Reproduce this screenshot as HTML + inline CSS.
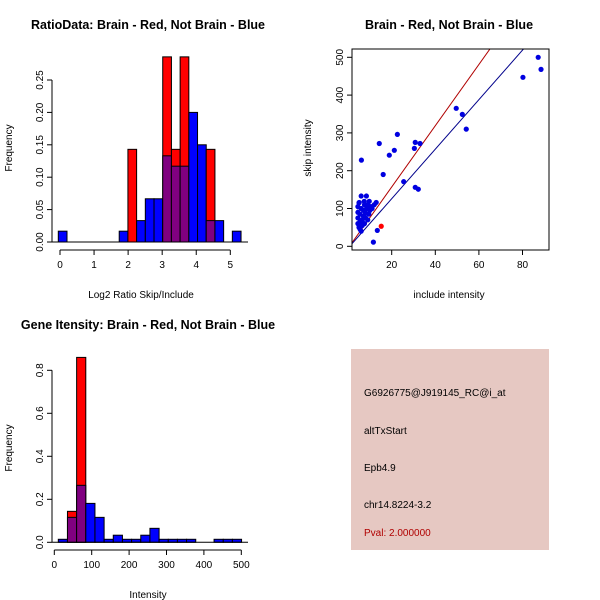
<!DOCTYPE html>
<html><head><meta charset="utf-8"><style>
html,body{margin:0;padding:0;background:#fff;}
svg{display:block;font-family:"Liberation Sans",Arial,sans-serif;}
.t{font-weight:bold;font-size:12.5px;}
.l{font-size:10px;}
</style></head><body>
<svg id="s" width="600" height="600" viewBox="0 0 600 600" xmlns="http://www.w3.org/2000/svg">
<rect width="600" height="600" fill="#fff"/>
<text class="t" x="148" y="29" text-anchor="middle">RatioData: Brain - Red, Not Brain - Blue</text>
<text class="l" x="141" y="298" text-anchor="middle">Log2 Ratio Skip/Include</text>
<text class="l" x="12" y="148" text-anchor="middle" transform="rotate(-90 12 148)">Frequency</text>
<text class="t" x="449" y="29" text-anchor="middle">Brain - Red, Not Brain - Blue</text>
<text class="l" x="449" y="298" text-anchor="middle">include intensity</text>
<text class="l" x="311" y="148" text-anchor="middle" transform="rotate(-90 311 148)">skip intensity</text>
<text class="t" x="148" y="329" text-anchor="middle">Gene Itensity: Brain - Red, Not Brain - Blue</text>
<text class="l" x="148" y="598" text-anchor="middle">Intensity</text>
<text class="l" x="12" y="448" text-anchor="middle" transform="rotate(-90 12 448)">Frequency</text>
<g>
<rect x="351" y="349" width="198" height="201" fill="#e6c8c2"/>
<text class="l" x="364" y="396">G6926775@J919145_RC@i_at</text>
<text class="l" x="364" y="434">altTxStart</text>
<text class="l" x="364" y="471">Epb4.9</text>
<text class="l" x="364" y="508">chr14.8224-3.2</text>
<text class="l" x="364" y="536" fill="#b00000">Pval: 2.000000</text>
</g>
<g id="g1"></g><g id="g2"></g><g id="g3"></g>
</svg>
<script>
// Ratio histogram data
const ratioBlue=[0.0167,0,0,0,0,0,0,0.0167,0,0.033,0.0667,0.0667,0.133,0.117,0.117,0.2,0.15,0.033,0.033,0,0.0167];
const ratioRed=[0,0,0,0,0,0,0,0,0.143,0,0,0,0.2857,0.143,0.2857,0,0,0.143,0,0,0];
const ratioXTicks=[0,1,2,3,4,5];
const ratioYTicks=[0,0.05,0.1,0.15,0.2,0.25];
const ratioYLabels=["0.00","0.05","0.10","0.15","0.20","0.25"];
// Scatter data
const incBlue=[87.2,88.5,80.2,49.6,52.4,54.2,22.6,14.3,30.8,33,30.4,21.2,18.9,6.1,16.1,25.5,30.8,32.2,13.4,11.6,6,8.4,5.1,7.4,9.7,12.9,4.5,4.5,4.5,4.5,5,5,5.5,5.5,5.5,6,6,6.5,6.5,7,7,7.5,7.5,8,8,8.5,9,9,9.5,10,10.5,11,12];
const skipBlue=[500,468,447,365,349,310,296,272,275,272,259,254,241,228,190,171,156,151,42,11,133,133,116,119,119,116,60,75,90,105,50,115,45,65,85,40,100,55,70,80,95,60,110,75,88,100,70,110,85,95,105,100,110];
const incRed=[15.2];
const skipRed=[53];
const fitRed=[-5,8.1];
const fitBlue=[-5,6.55];
const scXTicks=[20,40,60,80];
const scYTicks=[0,100,200,300,400,500];
// Intensity histogram data
const intBlue=[0.014,0.116,0.265,0.181,0.116,0.014,0.033,0.014,0.014,0.033,0.065,0.014,0.014,0.014,0.014,0,0,0.014,0.014,0.014];
const intRed=[0,0.144,0.86,0,0,0,0,0,0,0,0,0,0,0,0,0,0,0,0,0];
const intXTicks=[0,100,200,300,400,500];
const intYTicks=[0,0.2,0.4,0.6,0.8];
const intYLabels=["0.0","0.2","0.4","0.6","0.8"];

const NS="http://www.w3.org/2000/svg";
function mk(p,t,a){const e=document.createElementNS(NS,t);for(const k in a)e.setAttribute(k,a[k]);p.appendChild(e);return e;}
function axes(g,xs,xl,x0,ys,yl,y0,xLab,yLab){
  mk(g,'line',{x1:xs(xl[0]),x2:xs(xl[xl.length-1]),y1:x0,y2:x0,stroke:'#000'});
  xl.forEach((v,i)=>{mk(g,'line',{x1:xs(v),x2:xs(v),y1:x0,y2:x0+5,stroke:'#000'});
    const t=mk(g,'text',{x:xs(v),y:x0+18,'text-anchor':'middle','class':'l'});t.textContent=xLab?xLab[i]:v;
    
    });
  mk(g,'line',{x1:y0,x2:y0,y1:ys(yl[0]),y2:ys(yl[yl.length-1]),stroke:'#000'});
  yl.forEach((v,i)=>{mk(g,'line',{x1:y0,x2:y0-5,y1:ys(v),y2:ys(v),stroke:'#000'});
    const t=mk(g,'text',{x:y0-9,y:ys(v),'text-anchor':'middle','class':'l',transform:`rotate(-90 ${y0-9} ${ys(v)})`});t.textContent=yLab?yLab[i]:v;
    
    });
}
function hist(g,blue,red,start,w,xs,ys){
  const n=blue.length;
  for(let i=0;i<n;i++){
    const a=xs(start+i*w),b=xs(start+(i+1)*w);
    const r=red[i],bl=blue[i];
    if(r>0){const e=mk(g,'rect',{x:a,y:ys(r),width:b-a,height:ys(0)-ys(r),fill:'#ff0000',stroke:'#000'});
      
      }
    if(bl>0){const e=mk(g,'rect',{x:a,y:ys(bl),width:b-a,height:ys(0)-ys(bl),fill:r>0?'#800080':'#0000ff',stroke:'#000'});
      
      }
  }
}
// Panel 1
const g1=document.getElementById('g1');


const x1=v=>60+v*34.06, y1=v=>242-v*648;
hist(g1,ratioBlue,ratioRed,-0.05,0.2555,x1,y1);
mk(g1,'line',{x1:52,x2:248,y1:242,y2:242,stroke:'#000'});
axes(g1,x1,ratioXTicks,250,y1,ratioYTicks,52,null,ratioYLabels);
// Panel 2
const g2=document.getElementById('g2');


const x2=v=>348.1+v*2.18, y2=v=>246.3-v*0.378;
const cp=mk(g2,'clipPath',{id:'cp'});mk(cp,'rect',{x:352,y:49,width:197,height:201});
[[fitRed,'#b00000'],[fitBlue,'#00008b']].forEach(([f,c])=>{
  const xa=1.5,xb=95;
  const l=mk(g2,'line',{x1:x2(xa),y1:y2(f[0]+f[1]*xa),x2:x2(xb),y2:y2(f[0]+f[1]*xb),stroke:c,'clip-path':'url(#cp)'});
  
  
});
incBlue.forEach((v,i)=>{const c=mk(g2,'circle',{cx:x2(v),cy:y2(skipBlue[i]),r:2.6,fill:'#0000e0'});
  
  });
incRed.forEach((v,i)=>{const c=mk(g2,'circle',{cx:x2(v),cy:y2(skipRed[i]),r:2.6,fill:'#ff0000'});
  
  });
mk(g2,'rect',{x:352,y:49,width:197,height:201,fill:'none',stroke:'#000'});
scXTicks.forEach(v=>{mk(g2,'line',{x1:x2(v),x2:x2(v),y1:250,y2:255,stroke:'#000'});
  const t=mk(g2,'text',{x:x2(v),y:268,'text-anchor':'middle','class':'l'});t.textContent=v;
  
  });
scYTicks.forEach(v=>{mk(g2,'line',{x1:352,x2:347,y1:y2(v),y2:y2(v),stroke:'#000'});
  const t=mk(g2,'text',{x:343,y:y2(v),'text-anchor':'middle','class':'l',transform:`rotate(-90 343 ${y2(v)})`});t.textContent=v;
  
  });
// Panel 3
const g3=document.getElementById('g3');


const x3=v=>54.3+v*0.374, y3=v=>542.3-v*215;
hist(g3,intBlue,intRed,10.7,24.5,x3,y3);
mk(g3,'line',{x1:52,x2:248,y1:542.3,y2:542.3,stroke:'#000'});
axes(g3,x3,intXTicks,550,y3,intYTicks,52,null,intYLabels);
</script>
</body></html>
